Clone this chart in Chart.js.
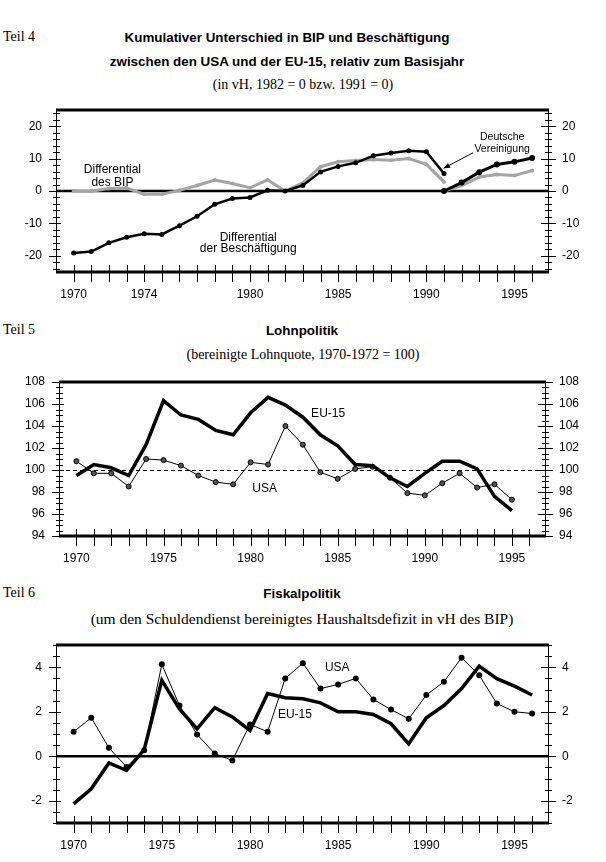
<!DOCTYPE html>
<html>
<head>
<meta charset="utf-8">
<script src="https://cdn.jsdelivr.net/npm/chart.js@4.4.0/dist/chart.umd.min.js"></script>
<style>
body{margin:0;background:#fff;width:606px;height:862px;position:relative;overflow:hidden}
.t{position:absolute;white-space:nowrap;color:#000;transform:translate(-50%,-50%)}
.teil{position:absolute;left:3px;white-space:nowrap;font:14px "Liberation Serif";transform:translateY(-50%)}
.fett{font:bold 13.4px "Liberation Sans"}
.sub{font:14px "Liberation Serif"}
canvas{position:absolute;left:0}
</style>
</head>
<body>
<div class="teil" style="top:37px">Teil 4</div>
<div class="t fett" style="left:287px;top:37px">Kumulativer Unterschied in BIP und Beschäftigung</div>
<div class="t fett" style="left:287px;top:61px">zwischen den USA und der EU-15, relativ zum Basisjahr</div>
<div class="t sub" style="left:303px;top:85px">(in vH, 1982 = 0 bzw. 1991 = 0)</div>

<div class="teil" style="top:330px">Teil 5</div>
<div class="t fett" style="left:302px;top:330px">Lohnpolitik</div>
<div class="t sub" style="left:303px;top:355px">(bereinigte Lohnquote, 1970-1972 = 100)</div>

<div class="teil" style="top:593px">Teil 6</div>
<div class="t fett" style="left:302px;top:593px">Fiskalpolitik</div>
<div class="t sub" style="left:302px;top:619px;font-size:15.5px">(um den Schuldendienst bereinigtes Haushaltsdefizit in vH des BIP)</div>

<canvas id="teil4" width="606" height="220" style="top:90px"></canvas>
<canvas id="teil5" width="606" height="210" style="top:362px"></canvas>
<canvas id="teil6" width="606" height="237" style="top:625px"></canvas>

<script>
// Jahre (Achse)
var jahre = [1970,1971,1972,1973,1974,1975,1976,1977,1978,1979,1980,1981,1982,1983,1984,1985,1986,1987,1988,1989,1990,1991,1992,1993,1994,1995,1996];
var xLabels4 = [1970,1974,1980,1985,1990,1995];
var xLabels = [1970,1975,1980,1985,1990,1995];

// Teil 4: Basis 1982 bzw. 1991
var jahre4a = [1970,1971,1972,1973,1974,1975,1976,1977,1978,1979,1980,1981,1982,1983,1984,1985,1986,1987,1988,1989,1990,1991];
var bip4a = [0,-0.1,0.8,0.9,-1.0,-1.0,0.2,1.7,3.4,2.3,1.0,3.4,0,2.5,7.5,9.0,9.4,9.7,9.5,10.0,8.2,2.8];
var besch4a = [-19.1,-18.7,-16.0,-14.3,-13.2,-13.4,-10.7,-7.8,-4.1,-2.3,-2.0,0.2,0,1.7,5.9,7.6,8.7,10.9,11.7,12.4,12.1,5.4];
var jahre4b = [1991,1992,1993,1994,1995,1996];
var bip4b = [0,1.7,4.3,5.1,4.8,6.3];
var besch4b = [0,2.6,5.8,8.2,9.0,10.2];
var yLabels4 = [-20,-10,0,10,20];

// Teil 5: Lohnquote
var jahre5 = [1970,1971,1972,1973,1974,1975,1976,1977,1978,1979,1980,1981,1982,1983,1984,1985,1986,1987,1988,1989,1990,1991,1992,1993,1994,1995];
var eu5 = [99.5,100.5,100.2,99.5,102.3,106.3,105.0,104.6,103.6,103.2,105.2,106.6,105.9,104.8,103.2,102.2,100.5,100.4,99.3,98.5,99.7,100.8,100.8,100.1,97.6,96.3];
var usa5 = [100.8,99.7,99.7,98.5,101.0,100.9,100.4,99.5,98.9,98.7,100.7,100.5,104.0,102.3,99.8,99.2,100.1,100.3,99.3,97.9,97.7,98.8,99.7,98.4,98.7,97.3];
var yLabels5 = [94,96,98,100,102,104,106,108];

// Teil 6: Haushaltsdefizit
var eu6 = [-2.14,-1.46,-0.30,-0.64,0.30,3.41,2.13,1.23,2.18,1.77,1.16,2.82,2.63,2.58,2.40,2.0,2.0,1.88,1.46,0.56,1.73,2.28,3.04,4.05,3.49,3.15,2.75];
var usa6 = [1.10,1.73,0.38,-0.48,0.27,4.13,2.28,0.98,0.12,-0.19,1.43,1.10,3.50,4.18,3.04,3.23,3.50,2.55,2.10,1.68,2.75,3.35,4.43,3.64,2.37,2.0,1.92];
var yLabels6 = [-2,0,2,4];

function punkte(xs, ys){
    return xs.map(function(x, i){ return {x: x, y: ys[i]}; });
}

function baueChart(id, p){
    var el = document.getElementById(id);
    var H = el.height;

    var yAchse = function(pos){
        return {
            position: pos, min: p.yMin, max: p.yMax,
            afterBuildTicks: function(s){
                var t = [];
                for (var v = Math.ceil(p.yMin / p.yStep) * p.yStep; v <= p.yMax + 1e-9; v += p.yStep){
                    t.push({value: Math.round(v * 100) / 100});
                }
                s.ticks = t;
            },
            afterFit: function(s){ s.width = (pos == 'left') ? p.left : 606 - p.right; },
            grid: {display: false, drawTicks: false}, border: {display: false},
            ticks: {
                autoSkip: false, padding: 14, color: '#000',
                font: {family: 'Liberation Sans', size: 12, lineHeight: 1},
                callback: function(v){ return p.yLabels.indexOf(v) >= 0 ? String(v) : ''; }
            }
        };
    };

    var achsen = {
        id: 'achsen',
        beforeDatasetsDraw: function(chart){
            var ctx = chart.ctx, c = chart.chartArea;
            var py = chart.scales.y.getPixelForValue(p.ref);
            ctx.save();
            ctx.strokeStyle = '#000';
            if (p.refDash){ ctx.lineWidth = 1; ctx.setLineDash([4, 3]); py = Math.round(py) + 0.5; }
            else { ctx.lineWidth = 2.5; }
            ctx.beginPath(); ctx.moveTo(c.left, py); ctx.lineTo(c.right, py); ctx.stroke();
            ctx.restore();
        },
        afterDraw: function(chart){
            var ctx = chart.ctx, c = chart.chartArea;
            var sx = chart.scales.x, sy = chart.scales.y;
            ctx.save();
            ctx.strokeStyle = '#000';
            // Rahmen
            ctx.lineWidth = 3;
            ctx.beginPath(); ctx.moveTo(c.left, c.top); ctx.lineTo(c.right + 1, c.top); ctx.stroke();
            ctx.beginPath(); ctx.moveTo(c.left, c.bottom); ctx.lineTo(c.right + 1, c.bottom); ctx.stroke();
            ctx.lineWidth = 1;
            ctx.beginPath();
            ctx.moveTo(c.left + 0.5, c.top); ctx.lineTo(c.left + 0.5, c.bottom);
            ctx.moveTo(c.right + 0.5, c.top); ctx.lineTo(c.right + 0.5, c.bottom);
            // x-Striche
            sx.ticks.forEach(function(t){
                var px = Math.round(sx.getPixelForValue(t.value)) + 0.5;
                ctx.moveTo(px, c.bottom - 7); ctx.lineTo(px, c.bottom + 10);
            });
            // y-Striche links und rechts
            sy.ticks.forEach(function(t){
                var py = Math.round(sy.getPixelForValue(t.value)) + 0.5;
                var gross = p.yLabels.indexOf(t.value) >= 0;
                if (gross){
                    ctx.moveTo(c.left - 7, py); ctx.lineTo(c.left + 5, py);
                    ctx.moveTo(c.right - 7, py); ctx.lineTo(c.right + 8, py);
                } else {
                    ctx.moveTo(c.left - 3, py); ctx.lineTo(c.left + 4, py);
                    ctx.moveTo(c.right - 3, py); ctx.lineTo(c.right + 4, py);
                }
            });
            ctx.stroke();
            // Beschriftungen
            ctx.fillStyle = '#000';
            ctx.textAlign = 'center';
            ctx.textBaseline = 'middle';
            p.texte.forEach(function(tx){
                ctx.font = (tx.size || 12) + 'px "Liberation Sans"';
                ctx.fillText(tx.text, sx.getPixelForValue(tx.x), sy.getPixelForValue(tx.y));
            });
            // Pfeil
            if (p.pfeil){
                var x1 = sx.getPixelForValue(p.pfeil[0]), y1 = sy.getPixelForValue(p.pfeil[1]);
                var x2 = sx.getPixelForValue(p.pfeil[2]), y2 = sy.getPixelForValue(p.pfeil[3]);
                ctx.lineWidth = 1;
                ctx.beginPath(); ctx.moveTo(x1, y1); ctx.lineTo(x2, y2); ctx.stroke();
                var w = Math.atan2(y2 - y1, x2 - x1);
                ctx.beginPath();
                ctx.moveTo(x2, y2);
                ctx.lineTo(x2 - 7 * Math.cos(w - 0.4), y2 - 7 * Math.sin(w - 0.4));
                ctx.lineTo(x2 - 7 * Math.cos(w + 0.4), y2 - 7 * Math.sin(w + 0.4));
                ctx.closePath(); ctx.fill();
            }
            ctx.restore();
        }
    };

    return new Chart(el, {
        type: 'line',
        data: {datasets: p.datasets},
        options: {
            responsive: false,
            animation: false,
            layout: {padding: 0},
            elements: {line: {tension: 0}},
            plugins: {legend: {display: false}, tooltip: {enabled: false}},
            scales: {
                x: {
                    type: 'linear', min: 1969, max: 1996.9,
                    afterBuildTicks: function(s){ s.ticks = jahre.map(function(j){ return {value: j}; }); },
                    afterFit: function(s){ s.height = H - p.bottom; },
                    grid: {display: false, drawTicks: false}, border: {display: false},
                    ticks: {
                        autoSkip: false, maxRotation: 0, padding: 15, color: '#000',
                        font: {family: 'Liberation Sans', size: 12},
                        callback: function(v){ return p.xLabels.indexOf(v) >= 0 ? String(v) : ''; }
                    }
                },
                y: yAchse('left'),
                y2: yAchse('right')
            }
        },
        plugins: [achsen]
    });
}

var grau = '#a4a4a4';

baueChart('teil4', {
    left: 56, right: 548, bottom: 182,
    yMin: -25, yMax: 25, yStep: 2, yLabels: yLabels4, xLabels: xLabels4,
    ref: 0, refDash: false,
    texte: [
        {text: 'Differential', x: 1972.2, y: 6.6},
        {text: 'des BIP', x: 1972.2, y: 2.7},
        {text: 'Differential', x: 1979.9, y: -14.3},
        {text: 'der Beschäftigung', x: 1979.9, y: -17.9},
        {text: 'Deutsche', x: 1994.3, y: 16.5, size: 10.5},
        {text: 'Vereinigung', x: 1994.3, y: 13.0, size: 10.5}
    ],
    pfeil: [1992.65, 11.8, 1990.98, 7.0],
    datasets: [
        {data: punkte(jahre4a, besch4a), borderColor: '#000', borderWidth: 2.5, pointRadius: 2.5, pointBackgroundColor: '#000', pointBorderWidth: 0},
        {data: punkte(jahre4b, besch4b), borderColor: '#000', borderWidth: 3, pointRadius: 3, pointBackgroundColor: '#000', pointBorderWidth: 0},
        {data: punkte(jahre4a, bip4a), borderColor: grau, borderWidth: 3, pointRadius: 2, pointBackgroundColor: grau, pointBorderWidth: 0},
        {data: punkte(jahre4b, bip4b), borderColor: grau, borderWidth: 3, pointRadius: 2, pointBackgroundColor: grau, pointBorderWidth: 0}
    ]
});

baueChart('teil5', {
    left: 59, right: 545, bottom: 174,
    yMin: 94, yMax: 108, yStep: 0.5, yLabels: yLabels5, xLabels: xLabels,
    ref: 100, refDash: true,
    texte: [
        {text: 'EU-15', x: 1984.45, y: 105.15},
        {text: 'USA', x: 1980.8, y: 98.3}
    ],
    datasets: [
        {data: punkte(jahre5, eu5), borderColor: '#000', borderWidth: 3.5, pointRadius: 0},
        {data: punkte(jahre5, usa5), borderColor: '#000', borderWidth: 1, pointRadius: 2.5, pointBackgroundColor: '#555', pointBorderColor: '#000', pointBorderWidth: 1}
    ]
});

baueChart('teil6', {
    left: 56, right: 548, bottom: 198,
    yMin: -3, yMax: 5, yStep: 0.5, yLabels: yLabels6, xLabels: xLabels,
    ref: 0, refDash: false,
    texte: [
        {text: 'USA', x: 1984.95, y: 4.0},
        {text: 'EU-15', x: 1982.55, y: 1.85}
    ],
    datasets: [
        {data: punkte(jahre, eu6), borderColor: '#000', borderWidth: 3.5, pointRadius: 0},
        {data: punkte(jahre, usa6), borderColor: '#000', borderWidth: 1, pointRadius: 3, pointBackgroundColor: '#000', pointBorderWidth: 0}
    ]
});
</script>
</body>
</html>
